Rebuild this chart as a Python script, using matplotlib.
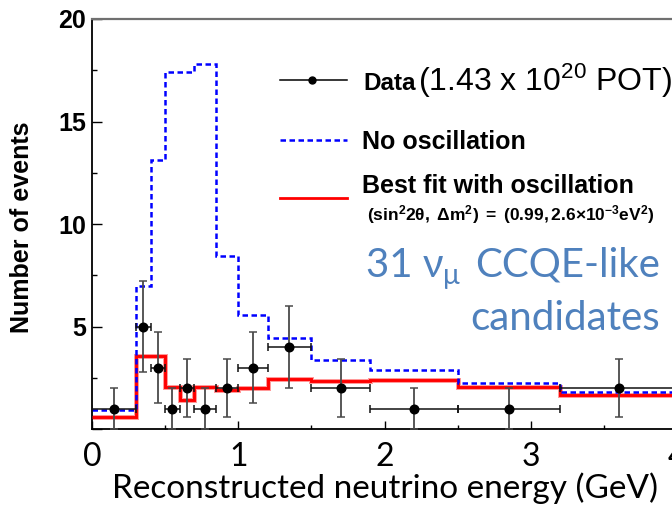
import matplotlib
matplotlib.use("Agg")
import matplotlib.pyplot as plt
import numpy as np
from matplotlib.lines import Line2D
from matplotlib.ticker import MultipleLocator, FixedLocator

plt.rcParams['mathtext.fontset'] = 'custom'
plt.rcParams['mathtext.rm'] = 'Liberation Sans'
plt.rcParams['mathtext.it'] = 'Liberation Sans:italic'
plt.rcParams['mathtext.bf'] = 'Liberation Sans:bold'
plt.rcParams['mathtext.sf'] = 'Liberation Sans'

# Reconstructed neutrino energy binning (GeV) and expected / observed events
bin_edges = [0.0, 0.3, 0.4, 0.5, 0.6, 0.7, 0.85, 1.0, 1.2, 1.5, 1.9, 2.5, 3.2, 4.0]
no_oscillation = [0.95, 7.0, 13.1, 17.4, 17.4, 17.8, 8.45, 5.58, 4.45, 3.35, 2.88, 2.26, 1.79]
best_fit = [0.6, 3.55, 3.55, 2.06, 1.41, 2.06, 1.9, 2.0, 2.44, 2.35, 2.39, 2.03, 1.66]
data_counts = [1, 5, 3, 1, 2, 1, 2, 3, 4, 2, 1, 1, 2]

x_ticks = [0, 1, 2, 3, 4]
x_tick_labels = ["0", "1", "2", "3", "4"]
y_ticks = [0, 5, 10, 15, 20]
y_tick_labels = ["", "5", "10", "15", "20"]

W, H = 672, 507
fig = plt.figure(figsize=(W / 100, H / 100), dpi=100)


def fx(px):
    return px / W


def fy(py):
    return 1 - py / H


ax = fig.add_axes([fx(92), fy(429), 585 / W, 410 / H])
ax.set_xlim(0, 4)
ax.set_ylim(0, 20)

edges = np.array(bin_edges)
centers = 0.5 * (edges[:-1] + edges[1:])
half_w = 0.5 * np.diff(edges)
counts = np.array(data_counts, dtype=float)

# Predictions
ax.stairs(best_fit, edges, baseline=None, color="#ff9a9a", lw=3.6, zorder=2)
ax.stairs(best_fit, edges, baseline=None, color="#ff0000", lw=2.1, zorder=3)
ax.stairs(no_oscillation, edges, baseline=None, color="#0000ff", lw=1.8,
          linestyle=(0, (2.2, 1.4)), zorder=4)

# Data with statistical errors
ax.errorbar(centers, counts, yerr=np.sqrt(counts), fmt="none", ecolor="#4a4a4a",
            elinewidth=1.3, capsize=2.6, capthick=1.1, zorder=5)
ax.errorbar(centers, counts, xerr=half_w, fmt="none", ecolor="#111111",
            elinewidth=1.1, capsize=2.6, capthick=1.1, zorder=5)
ax.plot(centers, counts, "o", color="black", ms=6.2, zorder=6)

# Frame
for s in ["left", "bottom"]:
    ax.spines[s].set_color("black")
    ax.spines[s].set_linewidth(1.3)
ax.spines["top"].set_color("#707070")
ax.spines["top"].set_linewidth(1.6)
ax.spines["right"].set_visible(False)

ax.yaxis.set_major_locator(FixedLocator(y_ticks))
ax.set_yticklabels(y_tick_labels)
ax.yaxis.set_minor_locator(MultipleLocator(2.5))
ax.xaxis.set_major_locator(FixedLocator(x_ticks))
ax.set_xticklabels(x_tick_labels)
ax.xaxis.set_minor_locator(MultipleLocator(0.5))
ax.tick_params(axis="y", which="major", direction="in", length=7.5, width=1.0,
               pad=4.5, labelsize=18)
ax.tick_params(axis="y", which="minor", direction="in", length=3.8, width=1.0)
ax.tick_params(axis="x", which="major", direction="in", length=5.5, width=1.0,
               pad=9, labelsize=23)
ax.tick_params(axis="x", which="minor", direction="in", length=3, width=1.0)
for lab in ax.get_yticklabels():
    lab.set_fontfamily("Liberation Sans")
    lab.set_fontweight("bold")
for lab in ax.get_xticklabels():
    lab.set_fontfamily(["Lato", "DejaVu Sans"])

fig.text(fx(22), fy(227), "Number of events", rotation=90, ha="center", va="center",
         fontsize=18, fontweight="bold", family="Liberation Sans")
fig.text(fx(385.5), fy(498), "Reconstructed neutrino energy (GeV)", ha="center",
         va="baseline", fontsize=24, family=["Lato", "DejaVu Sans"])

# Legend
fig.add_artist(Line2D([fx(280), fx(347)], [fy(80), fy(80)], color="black", lw=1.1))
fig.add_artist(Line2D([fx(312)], [fy(80)], marker="o", color="black", ms=5))
fig.add_artist(Line2D([fx(280), fx(347)], [fy(140), fy(140)], color="#0000ff", lw=1.8,
                      linestyle=(0, (2.2, 1.4))))
fig.add_artist(Line2D([fx(280), fx(347)], [fy(198), fy(198)], color="#ff0000", lw=2.0))

fig.text(fx(363), fy(90), "Data", fontsize=17.5, fontweight="bold",
         family="Liberation Sans", va="baseline")
fig.text(fx(418), fy(91), r"(1.43 x 10$^{20}$ POT)", fontsize=23,
         family="Liberation Sans", va="baseline")
fig.text(fx(362), fy(149), "No oscillation", fontsize=18, fontweight="bold",
         family="Liberation Sans", va="baseline")
fig.text(fx(362), fy(193), "Best fit with oscillation", fontsize=18, fontweight="bold",
         family="Liberation Sans", va="baseline")
fig.text(fx(367), fy(220),
         r"$\mathbf{(sin^2 2\theta,\ \Delta m^2)\ =\ (0.99,2.6{\times}10^{-3}eV^2)}$",
         fontsize=12.5, va="baseline")

blue = "#4f81bd"
fig.text(fx(366), fy(277), "31 ν", fontsize=29, color=blue,
         family=["Lato", "DejaVu Sans"], va="baseline")
fig.text(fx(443), fy(284), "μ", fontsize=20, color=blue,
         family=["Lato", "DejaVu Sans"], va="baseline")
fig.text(fx(475), fy(277), "CCQE-like", fontsize=29, color=blue,
         family=["Lato", "DejaVu Sans"], va="baseline")
fig.text(fx(660), fy(330), "candidates", fontsize=29, color=blue,
         family=["Lato", "DejaVu Sans"], va="baseline", ha="right")

fig.savefig("out.png", dpi=100)
